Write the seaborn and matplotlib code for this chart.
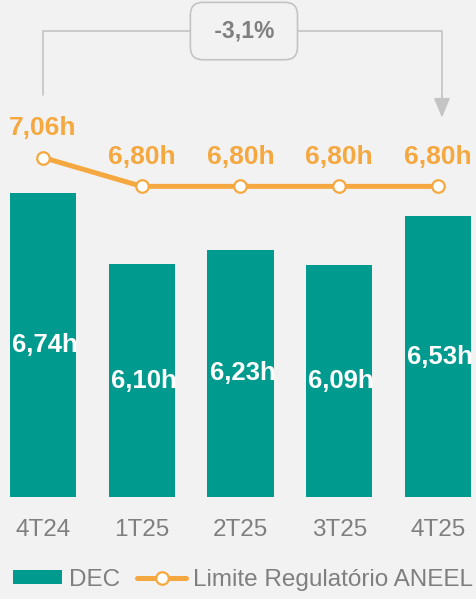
import matplotlib
matplotlib.use('Agg')
import matplotlib.pyplot as plt
import seaborn as sns
import numpy as np
from matplotlib.patches import Patch
from matplotlib.lines import Line2D

periodos = ['4T24', '1T25', '2T25', '3T25', '4T25']
dec = [6.74, 6.10, 6.23, 6.09, 6.53]
limite = [7.06, 6.80, 6.80, 6.80, 6.80]
variacao = '-3,1%'

teal = '#009B8E'
laranja = '#F5A83F'
cinza = '#7F7F7F'
fundo = '#F2F2F2'

sns.set_style('white')
plt.rcParams['font.family'] = ['Liberation Sans', 'DejaVu Sans']

fig = plt.figure(figsize=(4.77, 5.99), dpi=100, facecolor=fundo)
ax = fig.add_axes([0, 1 - 497 / 599, 1, 497 / 599])
ax.set_facecolor(fundo)

sns.barplot(x=periodos, y=dec, color=teal, width=0.67, saturation=1, linewidth=0, ax=ax)
x = np.arange(len(periodos))
sns.lineplot(x=x, y=limite, color=laranja, linewidth=3.6, marker='o', markersize=9,
             markerfacecolor='white', markeredgecolor=laranja, markeredgewidth=1.6, ax=ax)

# rotulos
for i, v in enumerate(dec):
    ax.text(i + 0.02, (4 + v) / 2, f'{v:.2f}h'.replace('.', ','), color='white', fontsize=18.5,
            fontweight='bold', ha='center', va='center')
for i, v in enumerate(limite):
    ax.annotate(f'{v:.2f}h'.replace('.', ','), (i, v), xytext=(0, 21), textcoords='offset points',
                color=laranja, fontsize=19, fontweight='bold', ha='center', va='center')

# colchete com variacao
y_top = 8.2
ax.plot([0, 0, 4.04, 4.04], [7.62, y_top, y_top, 7.58], color='#C4C4C4', lw=1.2,
        solid_joinstyle='miter')
ax.annotate('', xy=(4.04, 7.42), xytext=(4.04, 7.62),
            arrowprops=dict(arrowstyle='-|>,head_length=0.6,head_width=0.25', color='#C4C4C4',
                            lw=1.2, mutation_scale=20, shrinkA=0, shrinkB=0))
ax.text(2.035, y_top, ' ' + variacao + ' ', color=cinza, fontsize=16.5, fontweight='bold',
        ha='center', va='center',
        bbox=dict(boxstyle='round,pad=0.75,rounding_size=0.55', facecolor=fundo,
                  edgecolor='#C4C4C4', lw=1.2))

ax.set_xlim(-0.435, 4.395)
ax.set_ylim(4, 8.48)
ax.set_yticks([])
ax.tick_params(axis='x', length=0, pad=16, labelsize=17.5, labelcolor=cinza)
ax.set_xlabel('')
for s in ax.spines.values():
    s.set_visible(False)

handles = [Patch(facecolor=teal, edgecolor='none'),
           Line2D([0], [0], color=laranja, lw=3.6, marker='o', markersize=9,
                  markerfacecolor='white', markeredgecolor=laranja, markeredgewidth=1.6)]
fig.legend(handles, ['DEC', 'Limite Regulatório ANEEL'], loc='center',
           bbox_to_anchor=(0.51, 1 - 580 / 599), ncol=2, frameon=False, fontsize=17.5,
           labelcolor=cinza, handlelength=2.0, handleheight=0.5, handletextpad=0.3,
           columnspacing=0.7)

fig.savefig('out.png', dpi=100, facecolor=fundo)
